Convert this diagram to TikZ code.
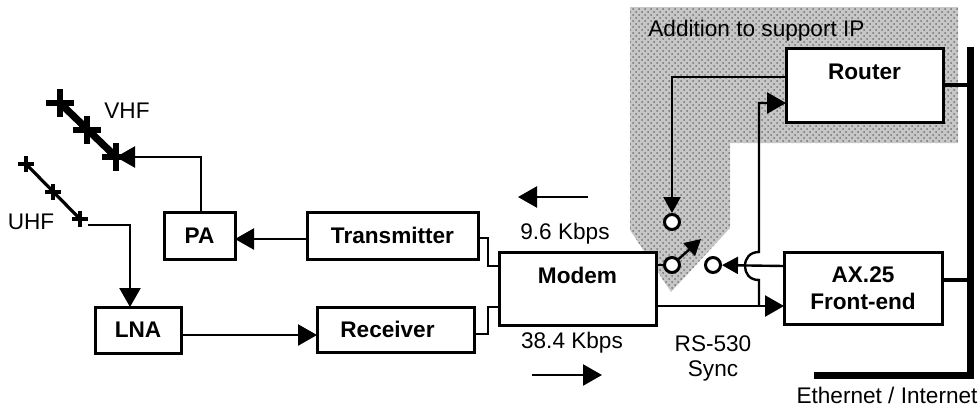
\documentclass[tikz,border=0pt]{standalone}
\usepackage{fontspec}
\setmainfont{Liberation Sans}
\usetikzlibrary{arrows.meta, patterns}
\tikzset{
  blockbox/.style={draw, line width=1.5pt, fill=white, inner sep=0pt, align=center, font=\fontsize{11.3}{13.5}\selectfont\bfseries},
  wire/.style={line width=1.2pt},
  textlabel/.style={inner sep=0pt, align=center, font=\fontsize{11.3}{13.5}\selectfont},
  switchdot/.style={circle, draw, line width=1.5pt, fill=white, inner sep=0pt, minimum size=7.5pt},
  smalltip/.style={-{Triangle[length=8pt,width=8.5pt]}}
}

\begin{document}
\begin{tikzpicture}[x=0.5pt, y=-0.5pt, >={Triangle[length=9.5pt,width=10.5pt]}]
        \useasboundingbox (0,0) rectangle (980,408);

        % Zone grise (addition IP)
        \fill[black!22] (630,7) -- (958,7) -- (958,143) -- (730,143) -- (730,228) -- (671,292) -- (630,230) -- cycle;
        \fill[pattern=crosshatch dots, pattern color=black!55] (630,7) -- (958,7) -- (958,143) -- (730,143) -- (730,228) -- (671,292) -- (630,230) -- cycle;

        % Blocs
        \node[blockbox, minimum width=78.5pt, minimum height=37pt] (router) at (864.5,85) {Router\\~};
        \node[blockbox, minimum width=79pt, minimum height=36pt] (axfront) at (863,288) {AX.25\\Front-end};
        \node[blockbox, minimum width=78.5pt, minimum height=36.5pt] (modem) at (577.5,288.5) {Modem\\~};
        \node[blockbox, minimum width=85.5pt, minimum height=23.5pt] (transmitter) at (392.5,235.5) {Transmitter};
        \node[blockbox, minimum width=78.5pt, minimum height=22.5pt] (receiver) at (395.5,329.5) {Receiver\hspace{8pt}};
        \node[blockbox, minimum width=35.5pt, minimum height=23.5pt] (pa) at (199.5,235.5) {PA};
        \node[blockbox, minimum width=43pt, minimum height=23pt] (lna) at (138,330) {LNA};

        % Commutateur
        \node[switchdot] (swrouter) at (672,222) {};
        \node[switchdot] (swmodem) at (672,265) {};
        \node[switchdot] (swfront) at (713,265) {};

        % Points de raccord
        \coordinate (routerout) at (786,77);
        \coordinate (routerin) at (786,103);
        \coordinate (frontin) at (784,306);
        \coordinate (frontout) at (784,266);
        \coordinate (frontbus) at (942,280);
        \coordinate (modemtop) at (499,266);
        \coordinate (modemlow) at (499,307);
        \coordinate (modemout) at (656,306);
        \coordinate (modemsw) at (656,265);
        \coordinate (txout) at (478,238);
        \coordinate (rxout) at (474,334);
        \coordinate (paout) at (235,239);
        \coordinate (txin) at (307,239);
        \coordinate (lnaout) at (181,335);
        \coordinate (rxin) at (317,335);
        \coordinate (patop) at (201,212);
        \coordinate (swtip) at (701,239);
        \coordinate (bustop) at (970,47);
        \coordinate (busend) at (814,375);
        \coordinate (vhfa) at (60,103);
        \coordinate (vhfb) at (87,130);
        \coordinate (vhfc) at (116,157);
        \coordinate (uhfa) at (26,164);
        \coordinate (uhfb) at (53,192);
        \coordinate (uhfc) at (80,219);
        \coordinate (uhfout) at (88,225);
        \coordinate (lnatop) at (130,307);
        \coordinate (hoplow) at (759,280);
        \coordinate (hophigh) at (759,252);
        \coordinate (txarrowa) at (588,197);
        \coordinate (txarrowb) at (518,197);
        \coordinate (rxarrowa) at (532,375);
        \coordinate (rxarrowb) at (602,375);

        % Antennes
        \draw[line width=3.6pt] (vhfa) -- (vhfc);
        \foreach \p in {vhfa,vhfb,vhfc} {
            \draw[line width=3pt] ([xshift=-7pt]\p) -- ([xshift=7pt]\p);
            \draw[line width=3pt] ([yshift=-7pt]\p) -- ([yshift=7pt]\p);
        }
        \draw[line width=1.6pt] (uhfa) -- (uhfc);
        \foreach \p in {uhfa,uhfb,uhfc} {
            \draw[line width=1.6pt] ([xshift=-4pt]\p) -- ([xshift=4pt]\p);
            \draw[line width=1.6pt] ([yshift=-4pt]\p) -- ([yshift=4pt]\p);
        }

        % Bus Ethernet
        \draw[line width=3.5pt] (bustop) |- (busend);
        \draw[wire, line width=1.6pt] (router.east) -- (router.east -| bustop);
        \draw[wire, line width=1.6pt] (frontbus) -- (frontbus -| bustop);

        % Liaisons
        \draw[wire, ->] (txin) -- (paout);
        \draw[wire, ->] (patop) |- (vhfc);
        \draw[wire, ->] (uhfout) -| (lnatop);
        \draw[wire, ->] (lnaout) -- (rxin);
        \draw[wire] (txout) -- ++(10,0) |- (modemtop);
        \draw[wire] (rxout) -- ++(14,0) |- (modemlow);
        \draw[wire, ->] (modemout) -- (frontin);
        \draw[wire] (modemsw) -- (swmodem);
        \draw[wire, smalltip] (frontout) -- (swfront);
        \draw[wire, smalltip] (routerout) -| (swrouter.north);
        \draw[wire, smalltip] (swmodem) -- (swtip);
        \draw[wire, ->] (frontin -| hoplow) -- (hoplow) .. controls (749,280) and (745,273) .. (745,266) .. controls (745,258) and (750,252) .. (hophigh) |- (routerin);

        % Fleches de debit
        \draw[wire, ->] (txarrowa) -- (txarrowb);
        \draw[wire, ->] (rxarrowa) -- (rxarrowb);

        % Textes
        \node[textlabel, anchor=west] (addition) at (648,31) {Addition to support IP};
        \node[textlabel] (vhflabel) at (127,111) {VHF};
        \node[textlabel] (uhflabel) at (31,222) {UHF};
        \node[textlabel] (txrate) at (565,234) {9.6 Kbps};
        \node[textlabel] (rxrate) at (572,343) {38.4 Kbps};
        \node[textlabel] (rslabel) at (713,344) {RS-530};
        \node[textlabel] (synclabel) at (713,371) {Sync};
        \node[textlabel] (netlabel) at (887,395) {Ethernet / Internet};
    \end{tikzpicture}
\end{document}
